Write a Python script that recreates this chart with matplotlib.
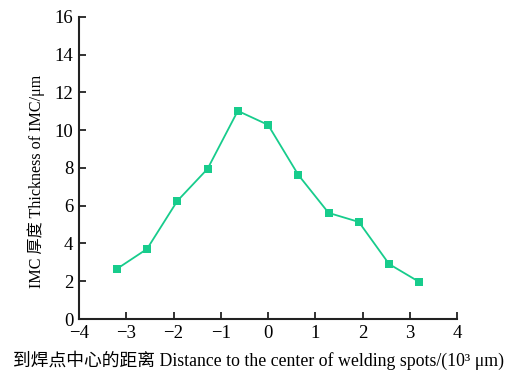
import matplotlib
matplotlib.use('Agg')
import matplotlib.pyplot as plt

# distance to welding spot center (10^3 um) and IMC thickness (um)
distance = [-3.20, -2.56, -1.92, -1.28, -0.64, 0.0, 0.64, 1.28, 1.92, 2.56, 3.20]
thickness = [2.65, 3.71, 6.25, 7.95, 11.02, 10.28, 7.63, 5.62, 5.14, 2.91, 1.96]

xticks = [-4, -3, -2, -1, 0, 1, 2, 3, 4]
yticks = [0, 2, 4, 6, 8, 10, 12, 14, 16]

plt.rcParams['font.family'] = ['Liberation Serif', 'Noto Sans CJK SC']

fig = plt.figure(figsize=(5.16, 3.74), dpi=100)
ax = fig.add_axes([0.153, 0.147, 0.733, 0.808])

ax.plot(distance, thickness, color='#17cc8c', lw=1.3, marker='s',
        markersize=5.8, markeredgewidth=0)

ax.set_xlim(-4, 4)
ax.set_ylim(0, 16)
ax.set_xticks(xticks)
ax.set_yticks(yticks)
ax.set_xticklabels(['\u2212' + str(-t) if t < 0 else str(t) for t in xticks])

for s in ['top', 'right']:
    ax.spines[s].set_visible(False)
for s in ['left', 'bottom']:
    ax.spines[s].set_linewidth(1.5)
    ax.spines[s].set_color('#222222')

ax.tick_params(direction='in', length=5, width=1.3, labelsize=13.5, colors='#222222',
               labelcolor='black', pad=4)

ax.set_xlabel('到焊点中心的距离 Distance to the center of welding spots/(10\u00b3 \u03bcm)',
              fontsize=12.8)
ax.xaxis.set_label_coords(0.476, -0.105)
ax.set_ylabel('IMC 厚度 Thickness of IMC/\u03bcm', fontsize=11.6)
ax.yaxis.set_label_coords(-0.09, 0.457)

fig.savefig('out.png', dpi=100)
